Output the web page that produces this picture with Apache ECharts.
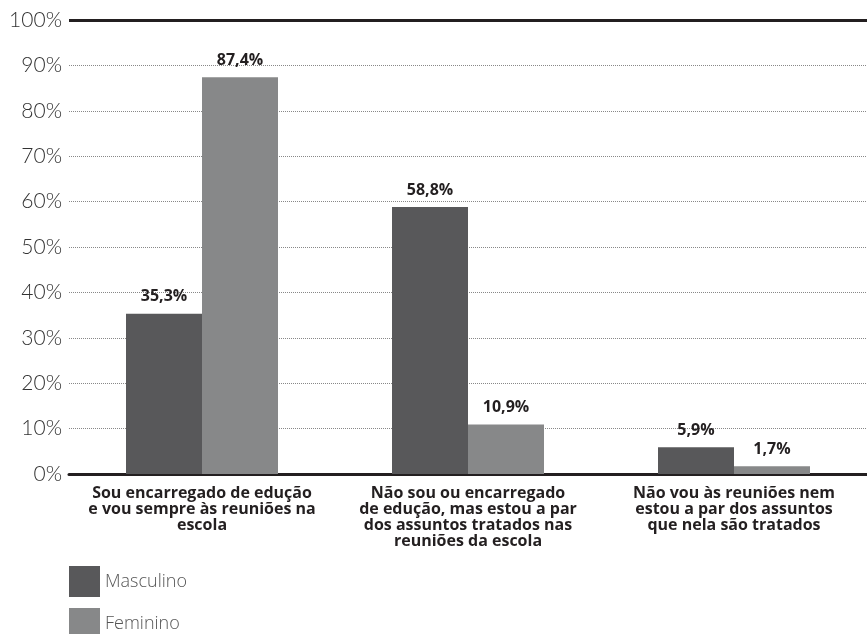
<!DOCTYPE html>
<html><head><meta charset="utf-8">
<script src="https://cdn.jsdelivr.net/npm/echarts@6/dist/echarts.min.js"></script>
<style>html,body{margin:0;padding:0;background:#fff}#c{width:867px;height:634px}</style>
</head><body><div id="c"></div>
<script>
const categories = [
  "Sou encarregado de edução\ne vou sempre às reuniões na\nescola",
  "Não sou ou encarregado\nde edução, mas estou a par\ndos assuntos tratados nas\nreuniões da escola",
  "Não vou às reuniões nem\nestou a par dos assuntos\nque nela são tratados"
];
const masculino = [35.3, 58.8, 5.9];
const feminino = [87.4, 10.9, 1.7];
const seriesNames = ["Masculino", "Feminino"];

const chart = echarts.init(document.getElementById('c'));
const fmt = p => String(p.value.toFixed(1)).replace('.', ',') + '%';
const labelCfg = {show: true, position: 'top', distance: 9, formatter: fmt,
  fontFamily: 'Open Sans', fontWeight: 'bold', fontSize: 16, color: '#231f20'};
const legendText = {fontFamily: 'Open Sans', fontSize: 18, fontWeight: 300, color: '#555'};
chart.setOption({
  animation: false,
  grid: {left: 69, right: -5, top: 20, bottom: 160, containLabel: false},
  legend: [
    {orient: 'vertical', left: 69, top: 566, padding: 0, itemWidth: 31, itemHeight: 31, icon: 'rect',
     data: [seriesNames[0]], textStyle: legendText, selectedMode: false},
    {orient: 'vertical', left: 69, top: 608, padding: 0, itemWidth: 31, itemHeight: 31, icon: 'rect',
     data: [seriesNames[1]], textStyle: legendText, selectedMode: false}
  ],
  xAxis: {
    type: 'category', data: categories,
    axisLine: {show: true, lineStyle: {color: '#231f20', width: 3}},
    axisTick: {show: false},
    axisLabel: {interval: 0, margin: 11, fontFamily: 'Open Sans', fontWeight: 'bold', fontSize: 16,
      lineHeight: 16, color: '#231f20', align: 'center'}
  },
  yAxis: {
    type: 'value', min: 0, max: 100, interval: 10,
    axisLine: {show: false}, axisTick: {show: false},
    axisLabel: {formatter: '{value}%', margin: 7, fontFamily: 'Lato', fontWeight: 300, fontSize: 21, color: '#333'},
    splitLine: {show: true, lineStyle: {color: '#888', width: 1, type: [1, 1]}}
  },
  series: [
    {name: seriesNames[0], type: 'bar', data: masculino, barWidth: 76, barGap: '0%',
     itemStyle: {color: '#58585a'}, label: labelCfg,
     markLine: {silent: true, symbol: 'none', label: {show: false},
       lineStyle: {color: '#231f20', width: 3, type: 'solid'}, data: [{yAxis: 100}]}},
    {name: seriesNames[1], type: 'bar', data: feminino, barWidth: 76,
     itemStyle: {color: '#878889'}, label: labelCfg}
  ]
});
</script></body></html>
